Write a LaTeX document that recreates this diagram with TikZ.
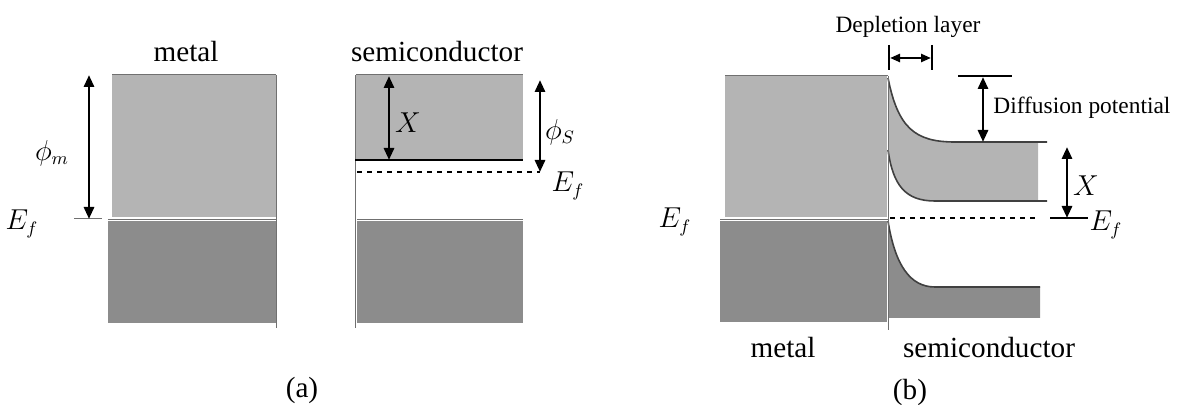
\documentclass[tikz,border=0pt]{standalone}
\usepackage{fontspec}
\setmainfont{Liberation Serif}
\usetikzlibrary{arrows.meta, positioning}
\definecolor{bandlight}{HTML}{B4B4B4}
\definecolor{banddark}{HTML}{8C8C8C}
\definecolor{edgegray}{HTML}{707070}
\newcommand{\lblfont}{\fontsize{14.6}{17}\selectfont}
\newcommand{\annfont}{\fontsize{11.7}{14}\selectfont}
\newcommand{\symfont}{\fontsize{13.5}{16}\selectfont}

\begin{document}
\begin{tikzpicture}[x=0.5pt, y=-0.5pt,
    lightband/.style={fill=bandlight},
    darkband/.style={fill=banddark},
    edge/.style={draw=edgegray, line width=0.5pt},
    curve/.style={draw=black!75, line width=0.8pt},
    dimarrow/.style={line width=1.4pt, {Triangle[length=6pt,width=5pt]}-{Triangle[length=6pt,width=5pt]}},
    title/.style={font=\lblfont, inner sep=0pt},
    sym/.style={font=\symfont, inner sep=0pt},
    note/.style={font=\annfont, inner sep=0pt}]
  \useasboundingbox (0,0) rectangle (1177,405);

  % (a) metal
  \fill[lightband] (112,75) rectangle (276,217);
  \fill[darkband] (108,221) rectangle (276,323);
  \draw[edge] (112,75) -- (276,75);
  \draw[edge] (108,220) -- (276,220);
  \draw[edge] (276,75) -- (276,328);
  \draw[edge] (74,219) -- (102,219);
  \coordinate (phimtop) at (89,75);
  \coordinate (phimbot) at (89,219);
  \draw[dimarrow] (phimtop) -- (phimbot);
  \node[title] (metalA) at (186,52) {metal};
  \node[sym] (phim) at (52,153) {$\phi_m$};
  \node[sym] (efmetalA) at (22,224) {$E_f$};

  % (a) semiconductor
  \fill[lightband] (356,75) rectangle (523,160);
  \fill[darkband] (357,221) rectangle (523,323);
  \draw[edge] (356,75) -- (523,75);
  \draw[edge] (357,220) -- (523,220);
  \draw[edge] (355,75) -- (355,328);
  \draw[line width=1.2pt] (355,160) -- (523,160);
  \draw[line width=0.8pt, dash pattern=on 2.5pt off 2.5pt] (357,172) -- (540,172);
  \coordinate (chiAtop) at (389,76);
  \coordinate (chiAbot) at (389,160);
  \draw[dimarrow] (chiAtop) -- (chiAbot);
  \coordinate (phistop) at (540,80);
  \coordinate (phisbot) at (540,172);
  \draw[dimarrow] (phistop) -- (phisbot);
  \node[title] (semiA) at (437,52) {semiconductor};
  \node[sym] (chiA) at (408,123) {$X$};
  \node[sym] (phis) at (560,132) {$\phi_S$};
  \node[sym] (efsemiA) at (568,186) {$E_f$};
  \node[title] (capA) at (302,390) {(a)};

  % (b) contact
  \fill[lightband] (725,76) rectangle (887,217);
  \fill[darkband] (720,221) rectangle (887,322);
  \draw[edge] (725,76) -- (888,76);
  \draw[edge] (720,220) -- (888,220);
  \fill[lightband] (888,78) .. controls (898,128) and (915,142) .. (955,142) -- (1038,142)
    -- (1038,201) -- (935,201) .. controls (905,201) and (893,185) .. (888,150) -- cycle;
  \fill[darkband] (888,221) .. controls (895,265) and (910,287) .. (935,287) -- (1040,287)
    -- (1040,318) -- (888,318) -- cycle;
  \draw[curve] (888,78) .. controls (898,128) and (915,142) .. (955,142) -- (1047,142);
  \draw[curve] (888,150) .. controls (893,185) and (905,201) .. (935,201) -- (1047,201);
  \draw[curve] (888,221) .. controls (895,265) and (910,287) .. (935,287) -- (1040,287);
  \draw[edge] (888,76) -- (888,330);
  \draw[line width=0.8pt, dash pattern=on 2.5pt off 2.5pt] (890,218) -- (1037,218);
  \draw[line width=0.6pt] (1050,218) -- (1088,218);
  \draw[line width=1.4pt] (958,76) -- (1012,76);
  \coordinate (difftop) at (983,77);
  \coordinate (diffbot) at (983,142);
  \draw[dimarrow] (difftop) -- (diffbot);
  \coordinate (chiBtop) at (1067,147);
  \coordinate (chiBbot) at (1067,218);
  \draw[dimarrow] (chiBtop) -- (chiBbot);
  \draw[line width=0.8pt] (889,45) -- (889,70);
  \draw[line width=0.8pt] (932,45) -- (932,70);
  \coordinate (deplL) at (890,58);
  \coordinate (deplR) at (931,58);
  \draw[line width=1.2pt, {Triangle[length=5pt,width=4pt]}-{Triangle[length=5pt,width=4pt]}] (deplL) -- (deplR);
  \node[note] (depl) at (908,27) {Depletion layer};
  \node[note, anchor=west] (diff) at (993,108) {Diffusion potential};
  \node[sym] (chiB) at (1086,186) {$X$};
  \node[sym] (efsemiB) at (1106,225) {$E_f$};
  \node[sym] (efmetalB) at (675,222) {$E_f$};
  \node[title] (metalB) at (783,348) {metal};
  \node[title] (semiB) at (989,348) {semiconductor};
  \node[title] (capB) at (910,392) {(b)};
\end{tikzpicture}
\end{document}
